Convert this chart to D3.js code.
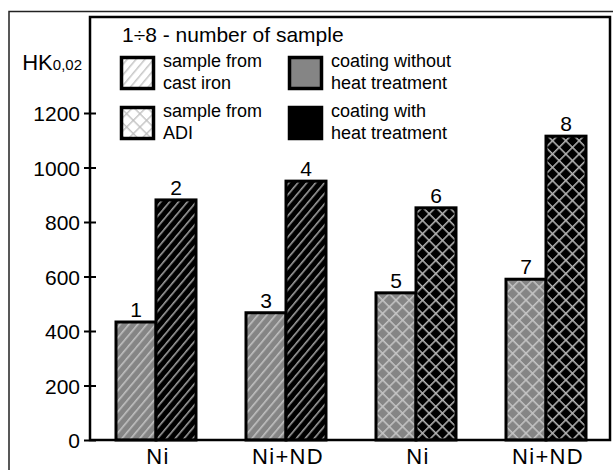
<!DOCTYPE html>
<html><head><meta charset="utf-8">
<script src="https://cdn.jsdelivr.net/npm/d3@7"></script>
<style>
html,body{margin:0;padding:0;background:#fff;}
svg{display:block;font-family:"Liberation Sans",Arial,Helvetica,sans-serif;}
</style></head>
<body>
<svg id="chart" width="613" height="470"></svg>
<script>
// ---- data ----
const categories = ["Ni", "Ni+ND", "Ni", "Ni+ND"];
const substrate = ["cast", "cast", "adi", "adi"];
const coatingWithout = [433, 467, 540, 590];
const coatingWith = [881, 950, 852, 1115];
const sampleLabels = ["1", "2", "3", "4", "5", "6", "7", "8"];
const yTicks = [0, 200, 400, 600, 800, 1000, 1200];
const legendItems = [
  {lines: ["sample from", "cast iron"], kind: "legCast"},
  {lines: ["sample from", "ADI"], kind: "legAdi"},
  {lines: ["coating without", "heat treatment"], kind: "gray"},
  {lines: ["coating with", "heat treatment"], kind: "black"}
];
const titleText = "1÷8 - number of sample";

// ---- layout ----
const svg = d3.select("#chart");
const pLeft = 90, pRight = 610, pTop = 17, pBottom = 440;

const x0 = d3.scaleBand().domain(d3.range(categories.length))
  .range([91, 611]).paddingInner(0.3846).paddingOuter(0.1923);
const x1 = d3.scaleBand().domain([0, 1]).range([0, x0.bandwidth()]);
const y = d3.scaleLinear().domain([0, 1200]).range([pBottom, 113]);

// ---- patterns ----
const defs = svg.append("defs");
function hatch(id, bg, fg, w) {
  const p = defs.append("pattern").attr("id", id).attr("patternUnits", "userSpaceOnUse")
    .attr("width", 6.8).attr("height", 6.8).attr("patternTransform", "rotate(40)");
  p.append("rect").attr("width", 6.8).attr("height", 6.8).attr("fill", bg);
  p.append("line").attr("x1", 0.8).attr("y1", -1).attr("x2", 0.8).attr("y2", 8)
    .attr("stroke", fg).attr("stroke-width", w);
}
function cross(id, bg, fg, w) {
  const s = 9.4;
  const p = defs.append("pattern").attr("id", id).attr("patternUnits", "userSpaceOnUse")
    .attr("width", s).attr("height", s).attr("patternTransform", "rotate(45)");
  p.append("rect").attr("width", s).attr("height", s).attr("fill", bg);
  p.append("line").attr("x1", 0.75).attr("y1", -1).attr("x2", 0.75).attr("y2", s + 1)
    .attr("stroke", fg).attr("stroke-width", w);
  p.append("line").attr("x1", -1).attr("y1", 0.75).attr("x2", s + 1).attr("y2", 0.75)
    .attr("stroke", fg).attr("stroke-width", w);
}
hatch("castGray", "#858585", "#c4c4c4", 1.5);
hatch("castBlack", "#000", "#a8a8a8", 1.5);
cross("adiGray", "#858585", "#c4c4c4", 1.6);
cross("adiBlack", "#000", "#b4b4b4", 1.6);
hatch("legCast", "#fff", "#bdbdbd", 1.3);
cross("legAdi", "#fff", "#bdbdbd", 1.3);

// ---- outer frame ----
svg.append("rect").attr("x", 9).attr("y", 11.5).attr("width", 640).attr("height", 500)
  .attr("fill", "none").attr("stroke", "#222").attr("stroke-width", 1.5);

// ---- bars ----
const groups = svg.append("g").selectAll("g").data(categories).join("g")
  .attr("transform", (d, i) => `translate(${x0(i)},0)`);

groups.each(function(cat, i) {
  const g = d3.select(this);
  const vals = [coatingWithout[i], coatingWith[i]];
  const fills = substrate[i] === "cast" ? ["castGray", "castBlack"] : ["adiGray", "adiBlack"];
  g.selectAll("rect").data(vals).join("rect")
    .attr("x", (d, j) => x1(j))
    .attr("y", d => y(d))
    .attr("width", x1.bandwidth())
    .attr("height", d => y(0) - y(d))
    .attr("fill", (d, j) => `url(#${fills[j]})`)
    .attr("stroke", "#000").attr("stroke-width", 3);
  g.selectAll("text").data(vals).join("text")
    .attr("x", (d, j) => x1(j) + x1.bandwidth() / 2)
    .attr("y", d => y(d) - 5)
    .attr("text-anchor", "middle").attr("font-size", 21).attr("fill", "#000")
    .text((d, j) => sampleLabels[i * 2 + j]);
});

// ---- frame ----
svg.append("rect").attr("x", pLeft).attr("y", pTop).attr("width", pRight - pLeft).attr("height", pBottom - pTop)
  .attr("fill", "none").attr("stroke", "#000").attr("stroke-width", 2.5);

// ---- y axis ----
const yAxis = d3.axisLeft(y).tickValues(yTicks).tickSize(6).tickPadding(5).tickFormat(d3.format("d"));
const ya = svg.append("g").attr("transform", `translate(${pLeft},0)`).call(yAxis);
ya.select(".domain").remove();
ya.selectAll(".tick line").attr("x1", -6).attr("x2", 6).attr("stroke", "#000").attr("stroke-width", 2);
ya.selectAll(".tick text").attr("font-size", 21).attr("fill", "#000")
  .attr("font-family", "Liberation Sans, Arial, sans-serif").attr("dy", "0.36em").attr("x", -10);

// ---- x axis labels ----
svg.append("g").selectAll("text").data(categories).join("text")
  .attr("x", (d, i) => x0(i) + x0.bandwidth() / 2 + 2)
  .attr("y", 464)
  .attr("text-anchor", "middle").attr("font-size", 22).attr("letter-spacing", 1.3).attr("fill", "#000")
  .text(d => d);

// ---- y title ----
const yt = svg.append("text").attr("x", 82).attr("y", 70).attr("text-anchor", "end").attr("fill", "#000");
yt.append("tspan").attr("font-size", 22).text("HK");
yt.append("tspan").attr("font-size", 15).text("0,02");

// ---- title ----
svg.append("text").attr("x", 122).attr("y", 42).attr("font-size", 21).attr("fill", "#000").text(titleText);

// ---- legend ----
const legPos = [[120, 56], [120, 106], [288, 56], [288, 106]];
const legFill = {legCast: "url(#legCast)", legAdi: "url(#legAdi)", gray: "#858585", black: "#000"};
const leg = svg.append("g").selectAll("g").data(legendItems).join("g")
  .attr("transform", (d, i) => `translate(${legPos[i][0]},${legPos[i][1]})`);
leg.append("rect").attr("x", 1.5).attr("y", 1.5).attr("width", 32).attr("height", 31)
  .attr("fill", d => legFill[d.kind]).attr("stroke", "#000").attr("stroke-width", 3.5);
leg.append("text").attr("x", 43).attr("y", 11).attr("font-size", 18).attr("fill", "#000")
  .selectAll("tspan").data(d => d.lines).join("tspan")
  .attr("x", 43).attr("dy", (d, j) => j === 0 ? 0 : 22).text(d => d);
</script>
</body></html>
